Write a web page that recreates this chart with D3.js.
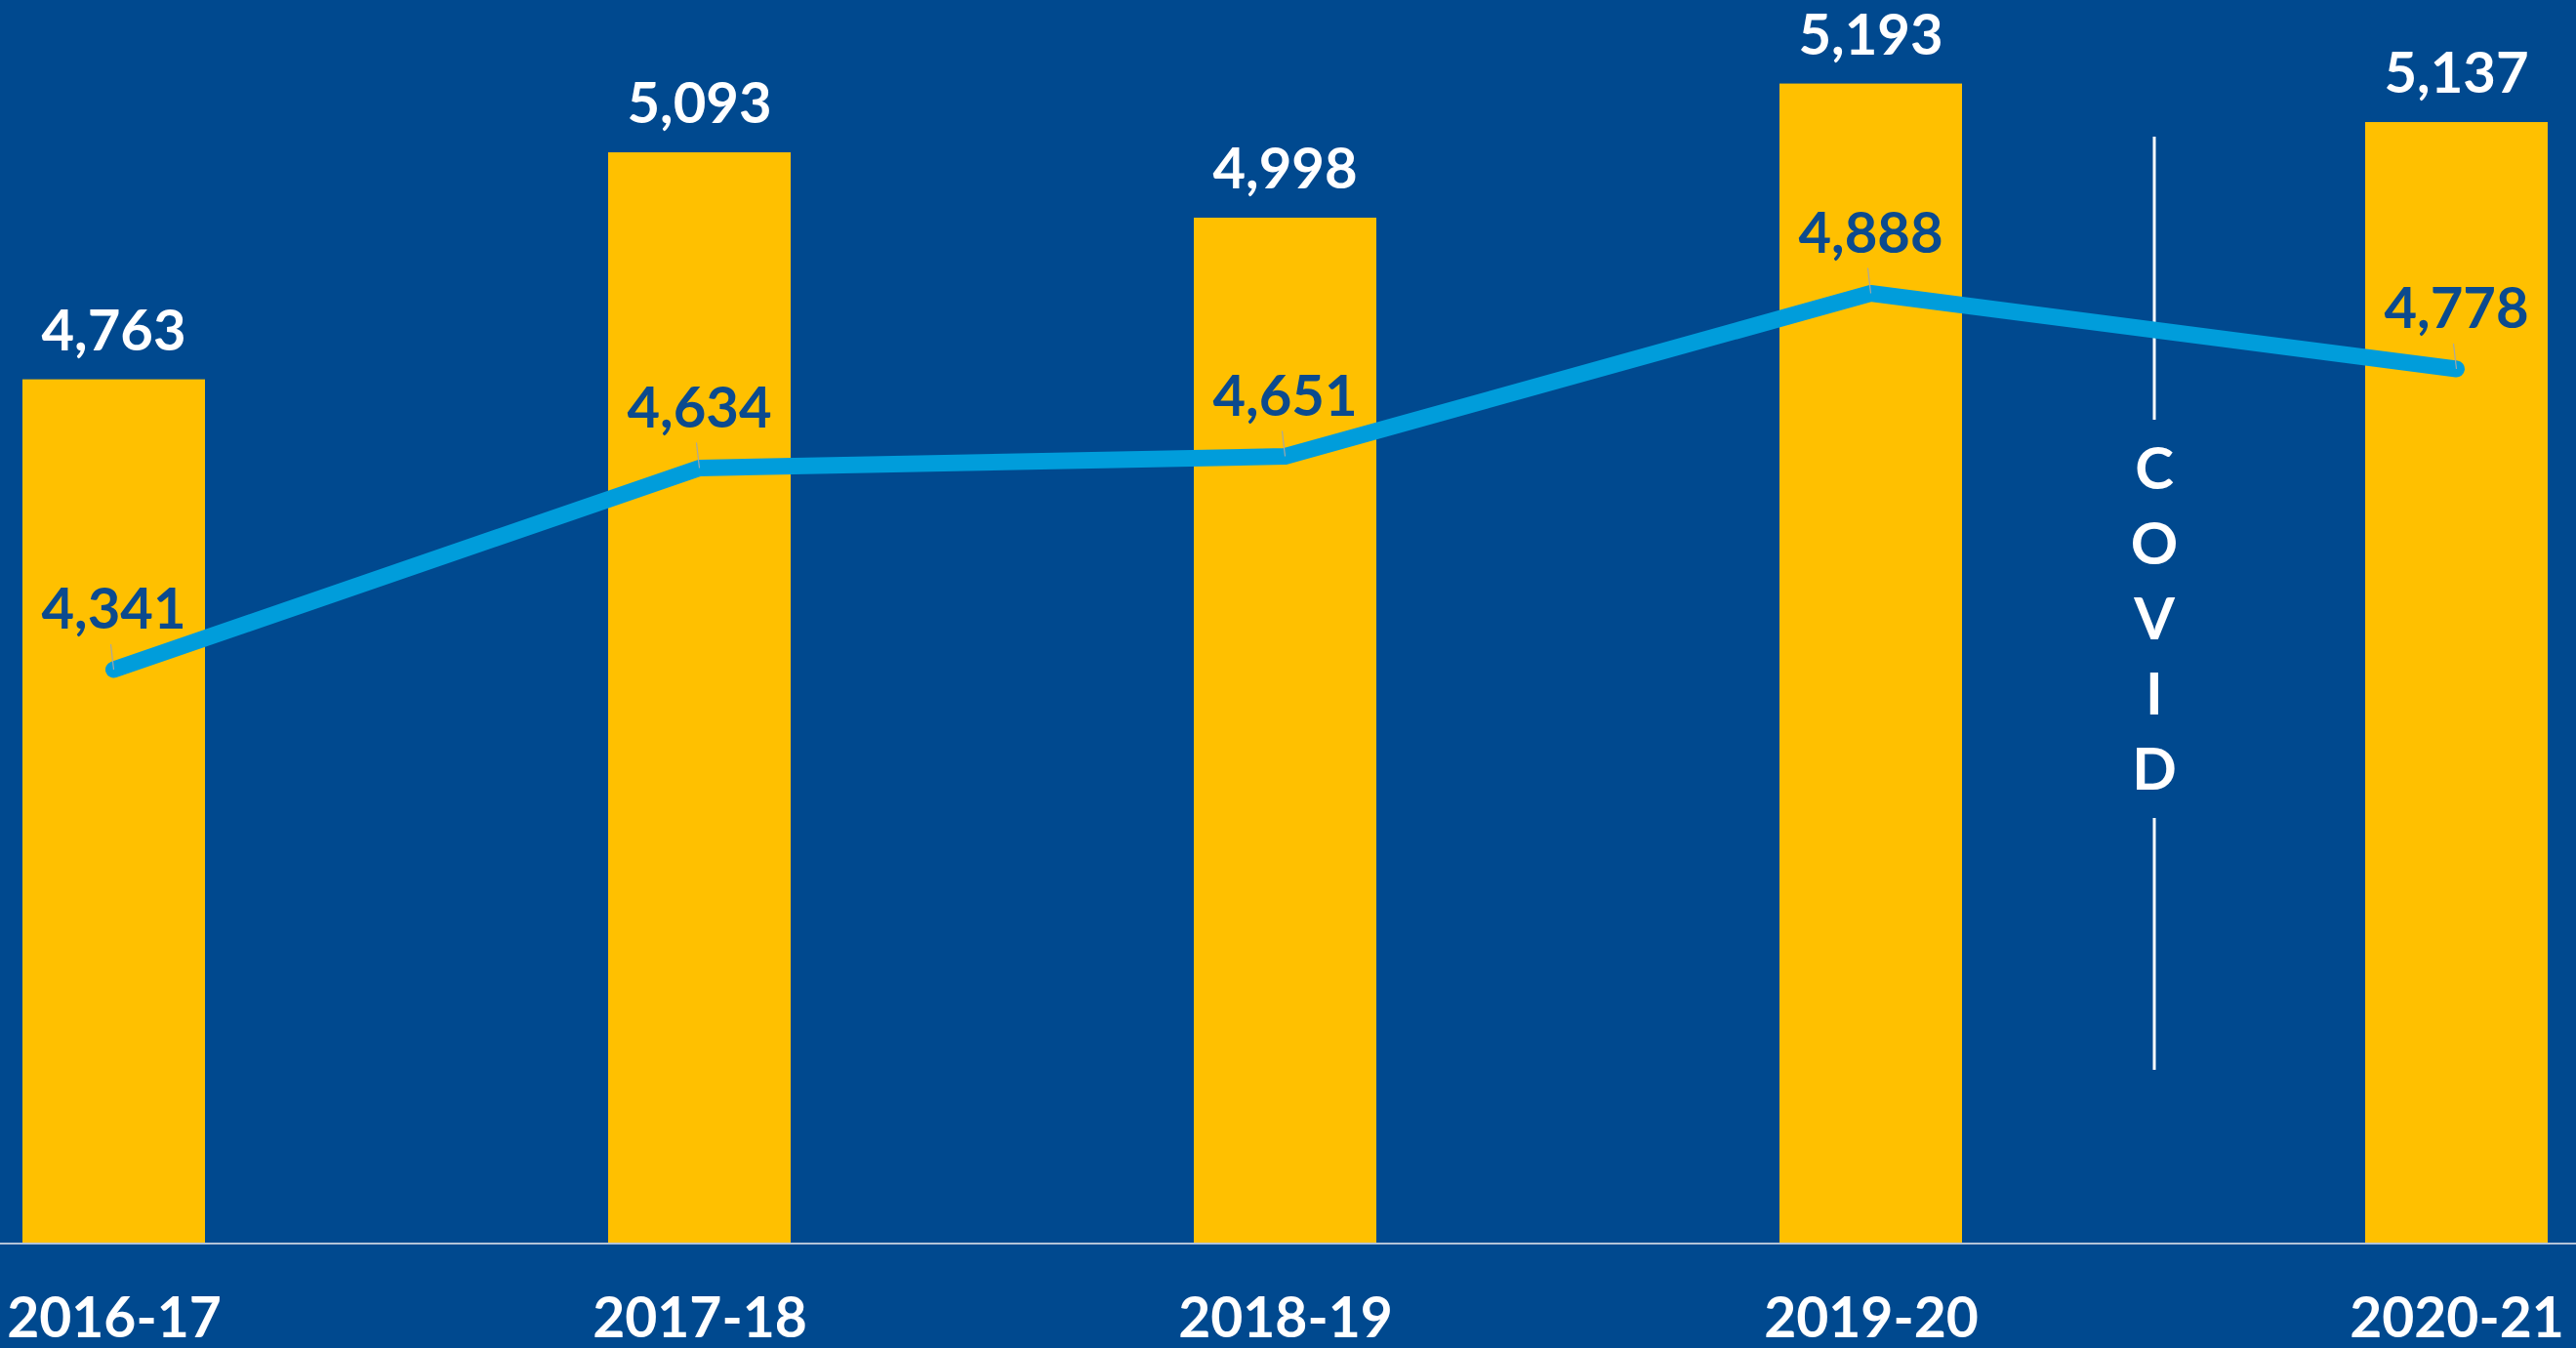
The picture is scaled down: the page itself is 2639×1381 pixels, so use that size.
<!DOCTYPE html>
<html>
<head>
<meta charset="utf-8">
<script src="https://cdn.jsdelivr.net/npm/d3@7"></script>
<style>
  html, body { margin: 0; padding: 0; background: #00498F; }
  svg { display: block; }
  text { font-family: Lato, "Liberation Sans", sans-serif; font-weight: 700; }
</style>
</head>
<body>
<svg id="chart" width="2639" height="1381"></svg>
<script>
const categories = ["2016-17", "2017-18", "2018-19", "2019-20", "2020-21"];
const barValues = [4763, 5093, 4998, 5193, 5137];
const lineValues = [4341, 4634, 4651, 4888, 4778];
const covidLetters = ["C", "O", "V", "I", "D"];

const W = 2639, H = 1381;
const baseY = 1273;
const svg = d3.select("#chart");

svg.append("rect").attr("width", W).attr("height", H).attr("fill", "#00498F");

const x = d3.scalePoint().domain(categories).range([116.5, 2516.5]);
const y = d3.scaleLinear().domain([3508, 5508]).range([baseY, baseY - 1409.4]);
const barW = 187;

// bars
svg.append("g").selectAll("rect")
  .data(categories)
  .join("rect")
  .attr("x", (c) => x(c) - barW / 2)
  .attr("y", (c, i) => y(barValues[i]))
  .attr("width", barW)
  .attr("height", (c, i) => baseY - y(barValues[i]))
  .attr("fill", "#FFC000");

// axis
svg.append("line")
  .attr("x1", 0).attr("x2", W)
  .attr("y1", baseY + 1).attr("y2", baseY + 1)
  .attr("stroke", "#B4C3D8").attr("stroke-width", 2);

const axis = svg.append("g")
  .attr("transform", `translate(0,${baseY})`)
  .call(d3.axisBottom(x).tickSize(0).tickPadding(57));
axis.select(".domain").remove();
axis.selectAll("text")
  .attr("fill", "#FFFFFF")
  .style("font-size", "57px")
  .style("font-family", "Lato, 'Liberation Sans', sans-serif")
  .style("font-weight", 700);

// bar labels
svg.append("g").selectAll("text")
  .data(categories)
  .join("text")
  .attr("x", (c) => x(c))
  .attr("y", (c, i) => y(barValues[i]) - 30)
  .attr("text-anchor", "middle")
  .attr("fill", "#FFFFFF")
  .style("font-size", "58px")
  .text((c, i) => d3.format(",")(barValues[i]));

// COVID divider
const covidX = 2207;
svg.append("line")
  .attr("x1", covidX).attr("x2", covidX)
  .attr("y1", 140).attr("y2", 430)
  .attr("stroke", "#FFFFFF").attr("stroke-width", 3);
svg.append("line")
  .attr("x1", covidX).attr("x2", covidX)
  .attr("y1", 838).attr("y2", 1096)
  .attr("stroke", "#FFFFFF").attr("stroke-width", 3);
const letterY = d3.scalePoint().domain(covidLetters).range([501, 809]);
svg.append("g").selectAll("text")
  .data(covidLetters)
  .join("text")
  .attr("x", covidX)
  .attr("y", (d) => letterY(d))
  .attr("text-anchor", "middle")
  .attr("fill", "#FFFFFF")
  .style("font-size", "60px")
  .text((d) => d);

// line
const pts = categories.map((c, i) => [x(c), y(lineValues[i])]);
svg.append("path")
  .attr("d", d3.line()(pts))
  .attr("fill", "none")
  .attr("stroke", "#009DDB")
  .attr("stroke-width", 17)
  .attr("stroke-linecap", "round")
  .attr("stroke-linejoin", "round");

// leader lines
svg.append("g").selectAll("line")
  .data(pts)
  .join("line")
  .attr("x1", (p) => p[0] - 3).attr("y1", (p) => p[1] - 26)
  .attr("x2", (p) => p[0]).attr("y2", (p) => p[1])
  .attr("stroke", "#A6A6A6").attr("stroke-width", 1.2);

// line labels
svg.append("g").selectAll("text")
  .data(categories)
  .join("text")
  .attr("x", (c) => x(c))
  .attr("y", (c, i) => y(lineValues[i]) - 42)
  .attr("text-anchor", "middle")
  .attr("fill", "#0B4A8E")
  .style("font-size", "58px")
  .text((c, i) => d3.format(",")(lineValues[i]));
</script>
</body>
</html>
